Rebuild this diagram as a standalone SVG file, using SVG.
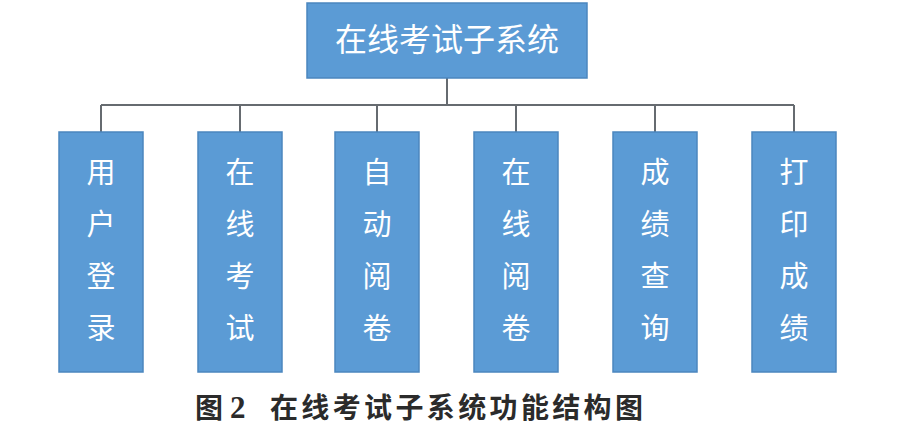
<svg xmlns="http://www.w3.org/2000/svg" width="901" height="433" viewBox="0 0 901 433">
<style>
.box{fill:#5B9BD5;stroke:#4B86BE;stroke-width:1.5}
.lbl{font-family:"Noto Sans CJK SC",sans-serif;font-size:29px;fill:#ffffff;text-anchor:middle}
.conn{stroke:#666b70;stroke-width:2;fill:none}
.cap{font-family:"Noto Sans CJK SC",sans-serif;font-size:28px;font-weight:bold;fill:#2b2b2b}
</style>
<rect width="901" height="433" fill="#ffffff"/>
<g id="connectors">
<path class="conn" d="M447 78 V105 M101 105 H794 M101 105 V132 M240 105 V132 M377 105 V132 M516 105 V132 M655 105 V132 M794 105 V132"/>
</g>
<g id="root">
<rect class="box" x="307" y="3" width="280" height="75"/>
<text class="lbl" x="447" y="51" style="font-size:32px">在线考试子系统</text>
</g>
<g id="n1">
<rect class="box" x="59" y="132" width="84" height="240"/>
<text class="lbl" x="101" y="183">用</text><text class="lbl" x="101" y="235">户</text><text class="lbl" x="101" y="287">登</text><text class="lbl" x="101" y="339">录</text>
</g>
<g id="n2">
<rect class="box" x="198" y="132" width="84" height="240"/>
<text class="lbl" x="240" y="183">在</text><text class="lbl" x="240" y="235">线</text><text class="lbl" x="240" y="287">考</text><text class="lbl" x="240" y="339">试</text>
</g>
<g id="n3">
<rect class="box" x="335" y="132" width="84" height="240"/>
<text class="lbl" x="377" y="183">自</text><text class="lbl" x="377" y="235">动</text><text class="lbl" x="377" y="287">阅</text><text class="lbl" x="377" y="339">卷</text>
</g>
<g id="n4">
<rect class="box" x="474" y="132" width="84" height="240"/>
<text class="lbl" x="516" y="183">在</text><text class="lbl" x="516" y="235">线</text><text class="lbl" x="516" y="287">阅</text><text class="lbl" x="516" y="339">卷</text>
</g>
<g id="n5">
<rect class="box" x="613" y="132" width="84" height="240"/>
<text class="lbl" x="655" y="183">成</text><text class="lbl" x="655" y="235">绩</text><text class="lbl" x="655" y="287">查</text><text class="lbl" x="655" y="339">询</text>
</g>
<g id="n6">
<rect class="box" x="752" y="132" width="84" height="240"/>
<text class="lbl" x="794" y="183">打</text><text class="lbl" x="794" y="235">印</text><text class="lbl" x="794" y="287">成</text><text class="lbl" x="794" y="339">绩</text>
</g>
<g id="caption">
<text class="cap" x="195" y="418">图<tspan x="230" font-family="Liberation Serif" font-size="31">2</tspan></text>
<text class="cap" x="270" y="418" textLength="373" lengthAdjust="spacing">在线考试子系统功能结构图</text>
</g>
</svg>
